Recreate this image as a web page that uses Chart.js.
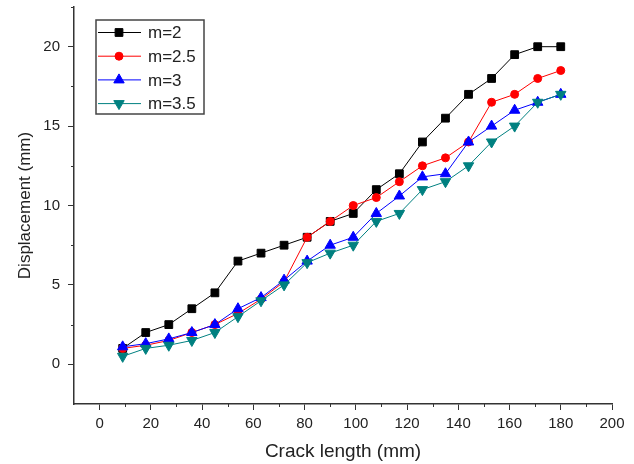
<!DOCTYPE html>
<html>
<head>
<meta charset="utf-8">
<title>Displacement vs crack length</title>
<script src="https://cdn.jsdelivr.net/npm/chart.js@4.4.0/dist/chart.umd.min.js"></script>
<style>
  html, body { margin: 0; padding: 0; background: #fff; }
  #wrap { width: 634px; height: 464px; }
</style>
</head>
<body>
<div id="wrap"><canvas id="crackChart"></canvas></div>
<script>
// data
const crackLength = [9, 18, 27, 36, 45, 54, 63, 72, 81, 90, 99, 108, 117, 126, 135, 144, 153, 162, 171, 180];
const dispM2   = [1, 2, 2.5, 3.5, 4.5, 6.5, 7, 7.5, 8, 9, 9.5, 11, 12, 14, 15.5, 17, 18, 19.5, 20, 20];
const dispM25  = [1, 1.2, 1.5, 2, 2.5, 3.2, 4.1, 5.2, 8, 9, 10, 10.5, 11.5, 12.5, 13, 14, 16.5, 17, 18, 18.5];
const dispM3   = [1.1, 1.3, 1.6, 2, 2.5, 3.5, 4.2, 5.3, 6.5, 7.5, 8, 9.5, 10.6, 11.8, 12, 14, 15, 16, 16.5, 17];
const dispM35  = [0.5, 1, 1.2, 1.5, 2, 3, 4, 5, 6.4, 7, 7.5, 9, 9.5, 11, 11.5, 12.5, 14, 15, 16.5, 17];
const seriesNames = ['m=2', 'm=2.5', 'm=3', 'm=3.5'];
const xTickValues = [0, 20, 40, 60, 80, 100, 120, 140, 160, 180, 200];
const yTickValues = [0, 5, 10, 15, 20];

const FONT = "Arial, 'Liberation Sans', sans-serif";
const AXIS_COLOR = '#333';

function toPoints(ys) {
    return crackLength.map((x, i) => ({ x: x, y: ys[i] }));
}

function makeSet(label, ys, color, style, radius, rotation, order) {
    return {
        label: label,
        data: toPoints(ys),
        borderColor: color,
        backgroundColor: color,
        borderWidth: 1,
        pointStyle: style,
        pointRadius: radius,
        pointHoverRadius: radius,
        pointRotation: rotation,
        pointBorderWidth: 1,
        showLine: true,
        tension: 0,
        order: order
    };
}

// minor ticks halfway between the major ones (and one past the last if it fits)
function minorValues(majors, max) {
    const out = [];
    const step = majors[1] - majors[0];
    for (let i = 0; i < majors.length; i++) {
        const v = majors[i] + step / 2;
        if (v <= max + 1e-9) out.push(v);
    }
    return out;
}

const minorTicks = {
    id: 'minorTicks',
    afterDraw(chart) {
        const ctx = chart.ctx;
        const xs = chart.scales.x, ys = chart.scales.y;
        ctx.save();
        ctx.strokeStyle = AXIS_COLOR;
        ctx.lineWidth = 1;
        ctx.beginPath();
        minorValues(xTickValues, xs.max).forEach(v => {
            const px = Math.round(xs.getPixelForValue(v)) + 0.5;
            ctx.moveTo(px, chart.chartArea.bottom);
            ctx.lineTo(px, chart.chartArea.bottom + 3);
        });
        minorValues(yTickValues, ys.max).forEach(v => {
            const py = Math.round(ys.getPixelForValue(v)) + 0.5;
            ctx.moveTo(chart.chartArea.left, py);
            ctx.lineTo(chart.chartArea.left - 3, py);
        });
        ctx.stroke();
        ctx.restore();
    }
};

// legend box inside the plot, top left
const legendBox = {
    id: 'legendBox',
    afterDraw(chart) {
        const ctx = chart.ctx;
        const x0 = 96, y0 = 20, w = 108, h = 94;
        ctx.save();
        ctx.fillStyle = '#fff';
        ctx.fillRect(x0, y0, w, h);
        ctx.strokeStyle = '#444';
        ctx.lineWidth = 1.5;
        ctx.strokeRect(x0, y0, w, h);
        ctx.font = '17px ' + FONT;
        ctx.textBaseline = 'middle';
        chart.data.datasets.forEach((ds, i) => {
            const y = y0 + 12.5 + i * 23.7;
            ctx.strokeStyle = ds.borderColor;
            ctx.fillStyle = ds.backgroundColor;
            ctx.lineWidth = 1;
            ctx.beginPath();
            ctx.moveTo(x0 + 2, y);
            ctx.lineTo(x0 + 45, y);
            ctx.stroke();
            Chart.helpers.drawPoint(ctx, {
                pointStyle: ds.pointStyle,
                radius: ds.pointRadius,
                rotation: ds.pointRotation,
                borderWidth: 1
            }, x0 + 23, y);
            ctx.fillStyle = '#222';
            ctx.fillText(ds.label, x0 + 52, y + 1);
        });
        ctx.restore();
    }
};

const ctx = document.getElementById('crackChart').getContext('2d');
const crackChart = new Chart(ctx, {
    type: 'scatter',
    data: {
        datasets: [
            makeSet(seriesNames[0], dispM2,  '#000000', 'rect', 5.5, 0, 3),
            makeSet(seriesNames[1], dispM25, '#ff0000', 'circle', 4, 0, 2),
            makeSet(seriesNames[2], dispM3,  '#0000ff', 'triangle', 6, 0, 1),
            makeSet(seriesNames[3], dispM35, '#008080', 'triangle', 6, 180, 0)
        ]
    },
    options: {
        responsive: true,
        maintainAspectRatio: false,
        animation: false,
        layout: { padding: { top: 4, right: 22, bottom: 0, left: 0 } },
        plugins: {
            legend: { display: false },
            tooltip: { enabled: false }
        },
        scales: {
            x: {
                type: 'linear',
                min: -10,
                max: 200,
                afterBuildTicks: s => { s.ticks = xTickValues.map(v => ({ value: v })); },
                afterFit: s => { s.height = 60; s.paddingLeft = 0; s.paddingRight = 0; },
                grid: { drawOnChartArea: false, drawTicks: true, tickLength: 6, tickColor: AXIS_COLOR, tickWidth: 1 },
                border: { display: true, color: AXIS_COLOR, width: 1.5 },
                ticks: { padding: 5, color: '#222', font: { family: FONT, size: 15 }, maxRotation: 0, autoSkip: false },
                title: { display: true, text: 'Crack length (mm)', color: '#222', font: { family: FONT, size: 19 }, padding: { top: 0, bottom: 1 } }
            },
            y: {
                type: 'linear',
                min: -2.5,
                max: 22.5,
                afterBuildTicks: s => { s.ticks = yTickValues.map(v => ({ value: v })); },
                afterFit: s => { s.width = 74; s.paddingTop = 0; s.paddingBottom = 0; },
                grid: { drawOnChartArea: false, drawTicks: true, tickLength: 6, tickColor: AXIS_COLOR, tickWidth: 1 },
                border: { display: true, color: AXIS_COLOR, width: 1.5 },
                ticks: { padding: 8, color: '#222', font: { family: FONT, size: 15 } },
                title: { display: true, text: 'Displacement (mm)', color: '#222', font: { family: FONT, size: 17 }, padding: { top: 15, bottom: 0 } }
            }
        }
    },
    plugins: [minorTicks, legendBox]
});
</script>
</body>
</html>
